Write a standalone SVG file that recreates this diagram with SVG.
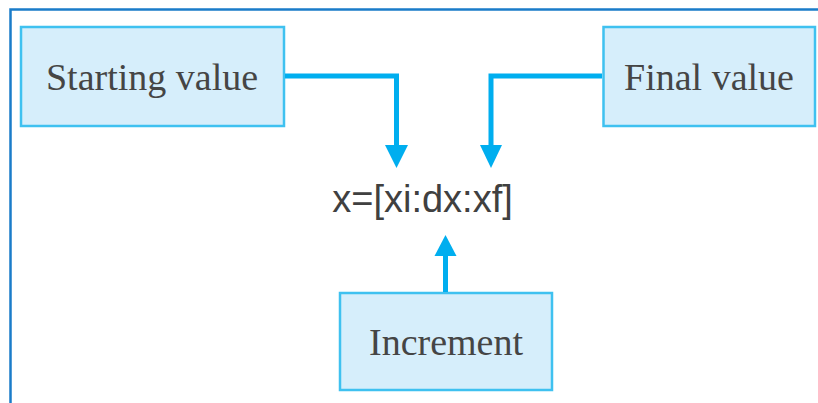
<svg xmlns="http://www.w3.org/2000/svg" width="818" height="403" viewBox="0 0 818 403">
<defs>
<style>
.box{fill:#d6eefb;stroke:#3fc1f0;stroke-width:2.5}
.lbl{font-family:"Liberation Serif","Times New Roman",serif;font-size:38px;fill:#454545}
.eq{font-family:"Liberation Sans",Arial,sans-serif;font-size:38px;fill:#404040}
.conn{fill:none;stroke:#00aeef;stroke-width:5}
.head{fill:#00aeef}
</style>
</defs>
<rect width="818" height="403" fill="#ffffff"/>
<path d="M10.5 403 V9.5 H818" fill="none" stroke="#1a7cc9" stroke-width="2.5"/>
<g id="starting">
<rect class="box" x="21" y="27" width="263" height="99"/>
<text class="lbl" x="152" y="90" text-anchor="middle">Starting value</text>
</g>
<g id="final">
<rect class="box" x="603.5" y="27" width="211.5" height="99"/>
<text class="lbl" x="709" y="90" text-anchor="middle">Final value</text>
</g>
<g id="increment">
<rect class="box" x="340" y="293" width="212" height="97"/>
<text class="lbl" x="446" y="355" text-anchor="middle">Increment</text>
</g>
<g id="expr">
<text class="eq" x="422.5" y="212" text-anchor="middle">x=[xi:dx:xf]</text>
</g>
<g id="connectors">
<path class="conn" d="M285 76 H396.5 V146"/>
<polygon class="head" points="385,145 408,145 396.5,168"/>
<path class="conn" d="M602 76 H491 V146"/>
<polygon class="head" points="480,145 502,145 491,168"/>
<path class="conn" d="M445.5 292 V254"/>
<polygon class="head" points="434.5,256 456.5,256 445.5,235"/>
</g>
</svg>
